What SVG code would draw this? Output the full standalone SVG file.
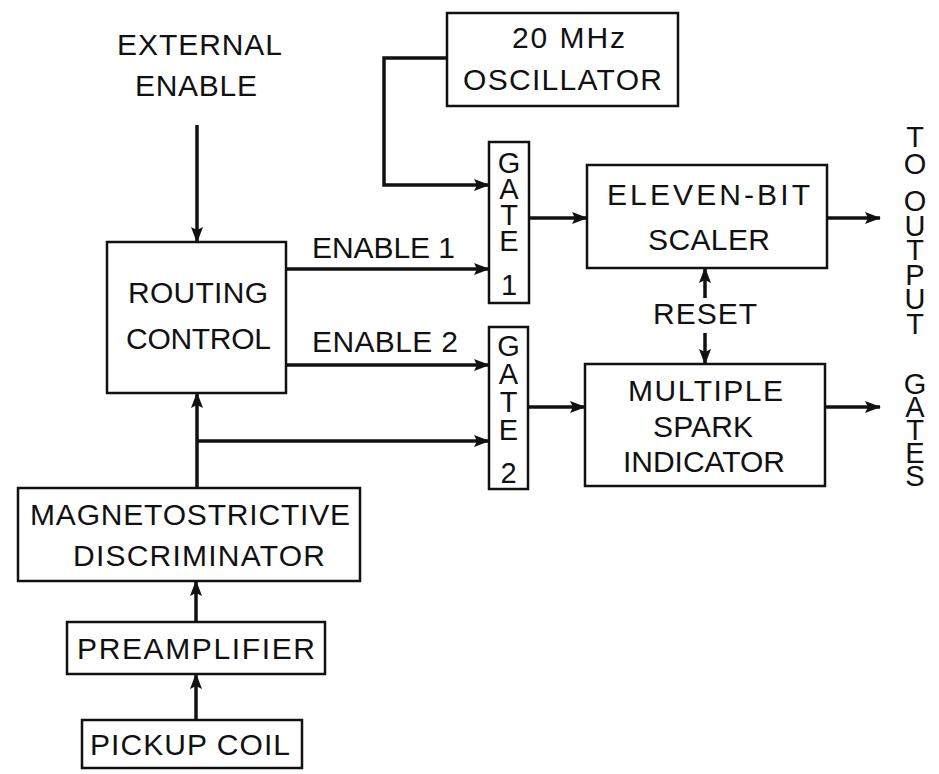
<svg xmlns="http://www.w3.org/2000/svg" width="939" height="774" viewBox="0 0 939 774">
<style>
  .box { fill: #ffffff; stroke: #111; stroke-width: 2.5; }
  .wire { fill: none; stroke: #111; stroke-width: 3.5; }
  text { font-family: "Liberation Sans", Arial, sans-serif; font-size: 30px; fill: #111; text-anchor: middle; }
  .g { font-size: 29px; }
  .v { font-size: 29px; writing-mode: vertical-rl; text-orientation: upright; text-anchor: start; }
</style>
<defs>
  <marker id="ah" viewBox="0 0 16 12" refX="15" refY="6" markerWidth="16" markerHeight="12" markerUnits="userSpaceOnUse" orient="auto">
    <path d="M0,0 L16,6 L0,12 L3,6 z" fill="#111"/>
  </marker>
</defs>
<rect width="939" height="774" fill="#ffffff"/>

<g id="connectors">
  <path class="wire" d="M197,125 V242" marker-end="url(#ah)"/>
  <path class="wire" d="M447,58 H384 V185 H489" marker-end="url(#ah)"/>
  <path class="wire" d="M286,269 H489" marker-end="url(#ah)"/>
  <path class="wire" d="M286,365 H489" marker-end="url(#ah)"/>
  <path class="wire" d="M529,218 H587" marker-end="url(#ah)"/>
  <path class="wire" d="M528,407 H585" marker-end="url(#ah)"/>
  <path class="wire" d="M827,218 H880" marker-end="url(#ah)"/>
  <path class="wire" d="M825,407 H880" marker-end="url(#ah)"/>
  <path class="wire" d="M705,298 V268" marker-end="url(#ah)"/>
  <path class="wire" d="M705,333 V364" marker-end="url(#ah)"/>
  <path class="wire" d="M197,488 V393" marker-end="url(#ah)"/>
  <path class="wire" d="M197,441 H489" marker-end="url(#ah)"/>
  <path class="wire" d="M196,622 V581" marker-end="url(#ah)"/>
  <path class="wire" d="M196,720 V674" marker-end="url(#ah)"/>
</g>

<g id="external-enable">
  <text x="199.5" y="55" textLength="165" lengthAdjust="spacing">EXTERNAL</text>
  <text x="196" y="96" textLength="122" lengthAdjust="spacing">ENABLE</text>
</g>

<g id="oscillator">
  <rect class="box" x="447" y="13" width="231" height="93"/>
  <text x="568.5" y="48" textLength="113" lengthAdjust="spacing">20 MHz</text>
  <text x="562.5" y="90" textLength="199" lengthAdjust="spacing">OSCILLATOR</text>
</g>

<g id="routing-control">
  <rect class="box" x="107" y="242" width="179" height="151"/>
  <text x="198" y="303" textLength="140" lengthAdjust="spacing">ROUTING</text>
  <text x="198.5" y="349" textLength="145" lengthAdjust="spacing">CONTROL</text>
</g>

<g id="enable-labels">
  <text x="383.5" y="258" textLength="143" lengthAdjust="spacing">ENABLE 1</text>
  <text x="385" y="352" textLength="146" lengthAdjust="spacing">ENABLE 2</text>
</g>

<g id="gate1">
  <rect class="box" x="489" y="142" width="40" height="161"/>
  <text class="v" x="509" y="147" style="letter-spacing:-6px">GATE</text>
  <text class="g" x="509" y="295">1</text>
</g>

<g id="gate2">
  <rect class="box" x="489" y="327" width="39" height="162"/>
  <text class="v" x="508.5" y="330" style="letter-spacing:-4px">GATE</text>
  <text class="g" x="508.5" y="483">2</text>
</g>

<g id="scaler">
  <rect class="box" x="587" y="165" width="240" height="103"/>
  <text x="708.5" y="205" textLength="203" lengthAdjust="spacing">ELEVEN-BIT</text>
  <text x="709" y="250" textLength="122" lengthAdjust="spacing">SCALER</text>
</g>

<g id="reset">
  <text x="705" y="324" textLength="104" lengthAdjust="spacing">RESET</text>
</g>

<g id="spark-indicator">
  <rect class="box" x="585" y="364" width="240" height="122"/>
  <text x="705.5" y="401" textLength="155" lengthAdjust="spacing">MULTIPLE</text>
  <text x="703" y="437" textLength="100" lengthAdjust="spacing">SPARK</text>
  <text x="704" y="472" textLength="162" lengthAdjust="spacing">INDICATOR</text>
</g>

<g id="output-gates">
  <text class="v" x="915" y="121" style="letter-spacing:-5px">TO</text>
  <text class="v" x="915" y="185" style="letter-spacing:-7.5px">OUTPUT</text>
  <text class="v" x="915" y="368" style="letter-spacing:-9px">GATES</text>
</g>

<g id="discriminator">
  <rect class="box" x="18" y="488" width="342" height="93"/>
  <text x="190" y="525" textLength="320" lengthAdjust="spacing">MAGNETOSTRICTIVE</text>
  <text x="199" y="566" textLength="252" lengthAdjust="spacing">DISCRIMINATOR</text>
</g>

<g id="preamplifier">
  <rect class="box" x="67" y="622" width="258" height="52"/>
  <text x="196" y="659" textLength="238" lengthAdjust="spacing">PREAMPLIFIER</text>
</g>

<g id="pickup-coil">
  <rect class="box" x="82" y="720" width="220" height="48"/>
  <text x="190" y="755" textLength="200" lengthAdjust="spacing">PICKUP COIL</text>
</g>
</svg>
